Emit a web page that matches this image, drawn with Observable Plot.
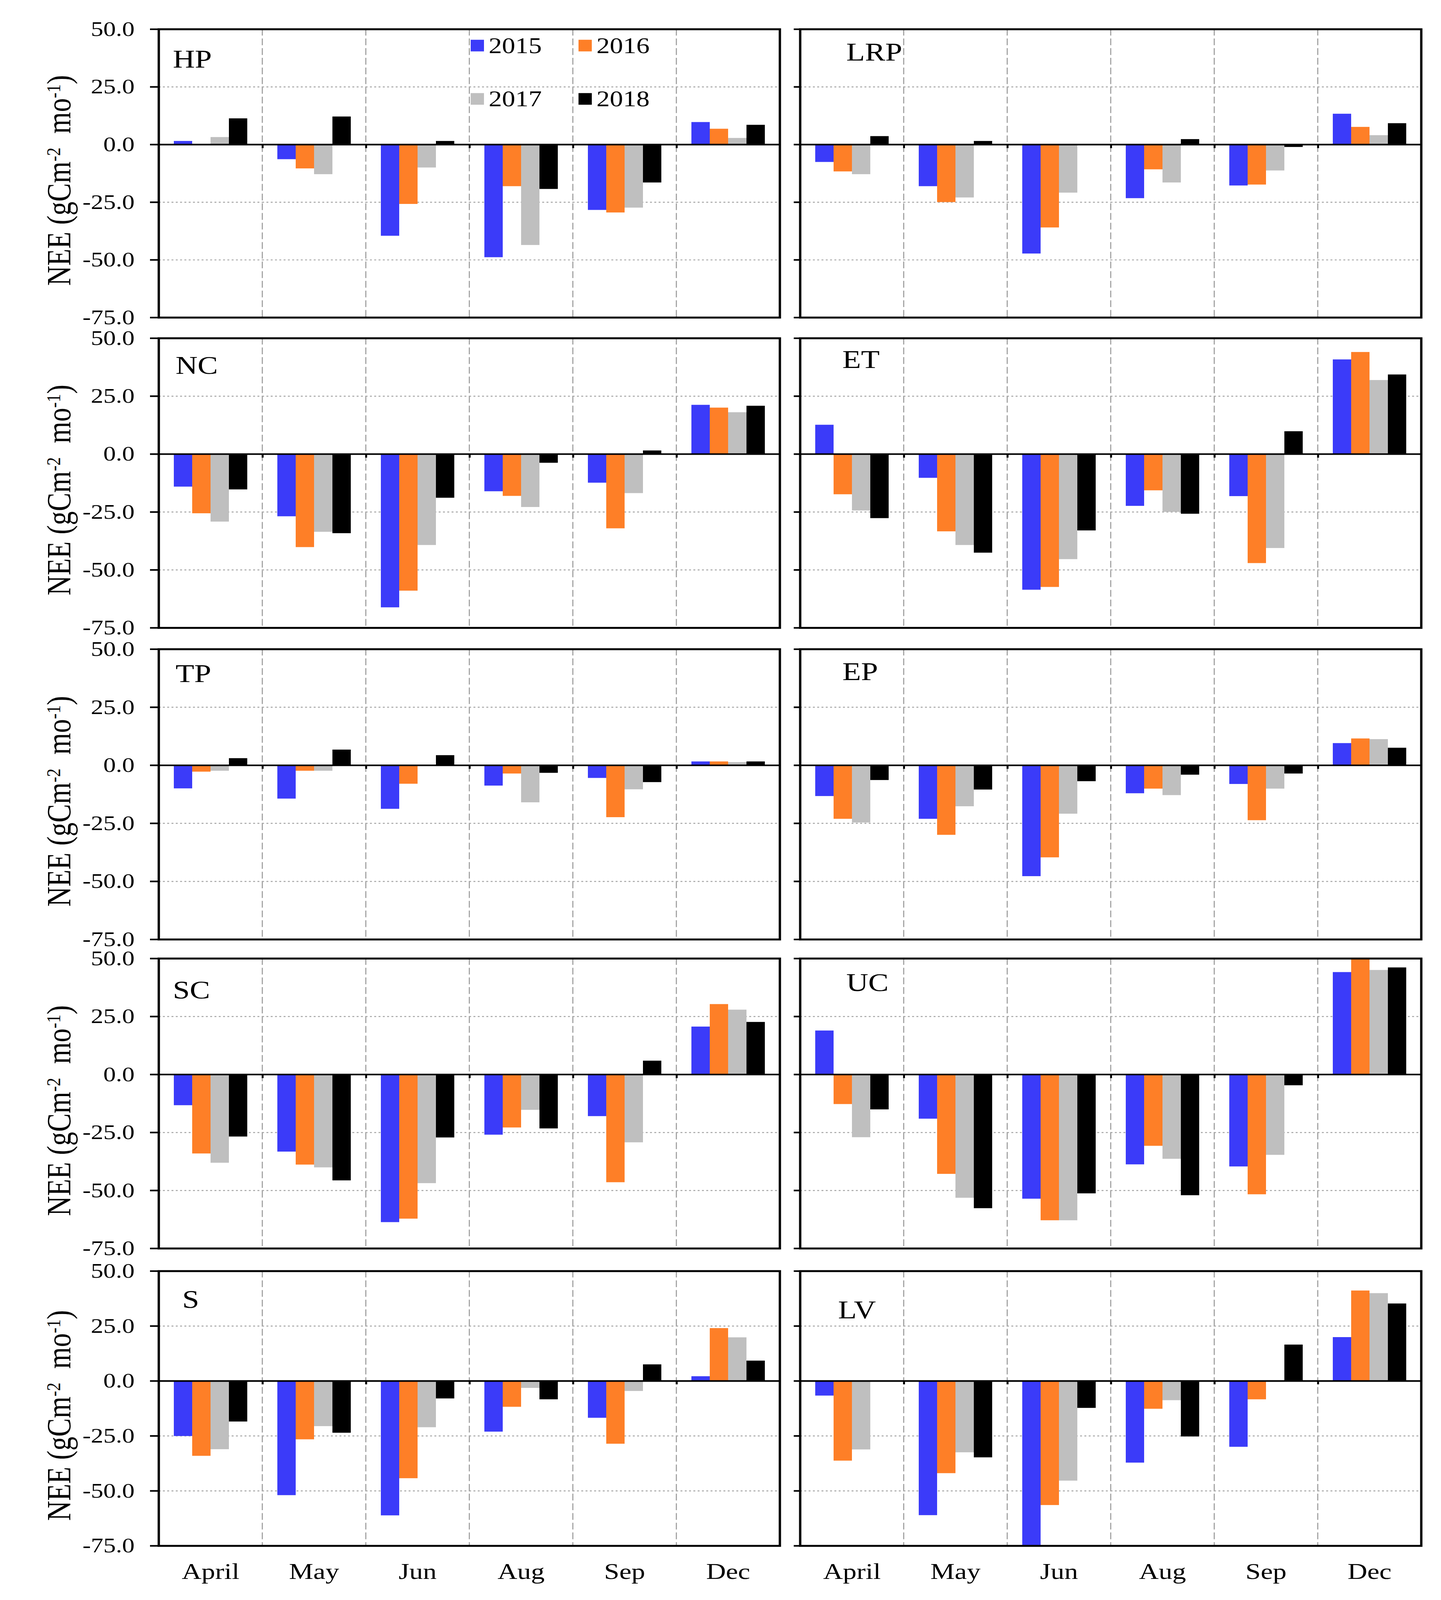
<!DOCTYPE html>
<html>
<head>
<meta charset="utf-8">
<script src="https://cdn.jsdelivr.net/npm/d3@7"></script>
<script src="https://cdn.jsdelivr.net/npm/@observablehq/plot@0.6"></script>
<style>
  html, body { margin: 0; padding: 0; background: #fff; overflow: hidden; }
  #page { position: relative; width: 3689px; height: 4950px; background: #fff; font-family: "Liberation Serif", "DejaVu Serif", serif; transform-origin: 0 0; overflow: hidden; }
  .ytitle { position: absolute; white-space: nowrap; line-height: 1; font-size: 86px; transform: translate(-50%, -50%) rotate(-90deg); color: #000; }
  .ytitle sup { font-size: 0.6em; vertical-align: 0.5em; line-height: 0; }
  .sw { position: absolute; width: 34px; height: 36px; }
  .lt { position: absolute; font-size: 68px; line-height: 1; transform: translateY(-50%); }
</style>
</head>
<body>
<div id="page"></div>
<script>
// ---------- data ----------
const months = ["April", "May", "Jun", "Aug", "Sep", "Dec"];
const years = ["2015", "2016", "2017", "2018"];
const yTicks = [50, 25, 0, -25, -50, -75];
const sites = ["HP", "LRP", "NC", "ET", "TP", "EP", "SC", "UC", "S", "LV"];

// each site: rows = years (2015..2018), columns = months (April..Dec)
const HP = [
  [1.5, -6.4, -39.6, -48.9, -28.4, 9.7],
  [0, -10.4, -25.8, -18.1, -29.5, 6.8],
  [3.2, -12.9, -10.0, -43.6, -27.4, 2.8],
  [11.3, 12.1, 1.5, -19.3, -16.5, 8.5]
];
const LRP = [
  [-7.6, -18.1, -47.3, -23.3, -17.8, 13.3],
  [-11.7, -25.0, -36.0, -10.8, -17.4, 7.6],
  [-12.9, -23.0, -20.9, -16.5, -11.3, 4.0],
  [3.6, 1.5, 0, 2.3, -1.1, 9.2]
];
const NC = [
  [-14.1, -26.9, -66.2, -16.1, -12.4, 21.2],
  [-25.6, -40.2, -59.0, -18.1, -32.1, 20.0],
  [-29.2, -33.6, -39.3, -22.9, -16.9, 18.0],
  [-15.3, -34.2, -18.9, -3.8, 1.5, 20.8]
];
const ET = [
  [12.6, -10.3, -58.6, -22.4, -18.2, 40.8],
  [-17.4, -33.4, -57.4, -15.7, -47.1, 44.0],
  [-24.4, -39.3, -45.4, -25.0, -40.6, 31.9],
  [-27.7, -42.6, -33.0, -25.8, 9.8, 34.3]
];
const TP = [
  [-10.0, -14.4, -18.8, -8.8, -5.5, 1.6],
  [-2.8, -2.4, -8.0, -3.6, -22.4, 1.6],
  [-2.4, -2.4, 0, -16.0, -10.4, 1.3],
  [3.0, 6.7, 4.3, -3.3, -7.3, 1.6]
];
const EP = [
  [-13.3, -23.1, -47.8, -12.1, -8.1, 9.5],
  [-23.1, -30.0, -39.7, -10.1, -23.7, 11.5],
  [-24.7, -17.7, -20.9, -12.9, -10.1, 11.2],
  [-6.4, -10.5, -6.9, -4.1, -3.6, 7.5]
];
const SC = [
  [-13.3, -33.3, -63.7, -26.0, -18.0, 20.6],
  [-34.1, -38.9, -62.2, -22.9, -46.5, 30.3],
  [-38.1, -40.1, -46.9, -15.3, -29.3, 27.9],
  [-26.8, -45.7, -27.2, -23.3, 5.9, 22.6]
];
const UC = [
  [18.9, -19.1, -53.6, -38.8, -39.7, 44.1],
  [-12.8, -42.9, -62.9, -30.8, -51.7, 50.5],
  [-27.1, -53.2, -62.9, -36.4, -34.7, 45.0],
  [-15.1, -57.7, -51.3, -52.1, -4.7, 46.1]
];
const S = [
  [-25.1, -52.0, -61.2, -23.1, -16.8, 2.1],
  [-34.1, -26.6, -44.3, -11.8, -28.6, 24.0],
  [-31.1, -20.6, -21.1, -3.2, -4.6, 19.8],
  [-18.5, -23.6, -8.0, -8.4, 7.5, 9.2]
];
const LV = [
  [-6.7, -61.1, -76.0, -37.2, -30.0, 19.9],
  [-36.3, -42.0, -56.5, -12.7, -8.4, 41.1],
  [-31.2, -32.5, -45.4, -8.8, 0, 39.9],
  [0, -34.8, -12.3, -25.3, 16.5, 35.2]
];
const siteData = [HP, LRP, NC, ET, TP, EP, SC, UC, S, LV];

// ---------- styles / layout ----------
const colors = ["#3b3bf9", "#fe7f27", "#bfbfbf", "#000000"];
const rowTops = [90, 1046, 2008, 2965, 3932];
const rowHeights = [892, 896, 898, 897, 850];
const colLefts = [404, 2046];
const panelWidth = 1594;
// label offsets [dx, dy] from panel top-left
const labelOffsets = [[36, 93], [118, 72], [43, 85], [108, 67], [43, 77], [108, 70], [36, 99], [118, 76], [60, 88], [97, 121]];

const page = document.getElementById("page");
// fill the viewport the browser really has with the 3689x4950 page
const sx = window.innerWidth / 3689, sy = window.innerHeight / 4950;
if (isFinite(sx) && isFinite(sy) && sx > 0 && sy > 0) page.style.transform = `scale(${sx}, ${sy})`;

const FONT = "Liberation Serif";

function makePanel(idx) {
  const site = sites[idx];
  const data = siteData[idx];
  const col = idx % 2, row = Math.floor(idx / 2);
  const isBottom = row === 4;
  const ML = 220, MR = 20, MT = 20, MB = isBottom ? 160 : 30;
  const W = panelWidth, H = rowHeights[row];
  const step = (W / months.length) / (years.length + 1.6);
  const records = years.flatMap((yr, i) => months.map((m, j) => ({month: m, year: yr, value: data[i][j]})));
  const bounds = months.slice(1).map(m => ({month: m, year: years[0]}));

  const marks = [
    Plot.gridY({ticks: [25, -25, -50], stroke: "#a6a6a6", strokeOpacity: 1, strokeWidth: 3, strokeDasharray: "5,6"}),
    Plot.frame({anchor: "left", stroke: "#a6a6a6", strokeOpacity: 1, strokeWidth: 3, strokeDasharray: "18,12"}),
    Plot.barY(records, {fx: "month", x: "year", y: "value", fill: "year", clip: true}),
    Plot.ruleY([0], {stroke: "black", strokeWidth: 5}),
    Plot.ruleX(bounds, {fx: "month", x: "year", y1: 0, y2: -1.6, dx: -1.3 * step, stroke: "black", strokeWidth: 5}),
    Plot.axisY({
      ticks: yTicks,
      tickSize: col === 0 ? 22 : 16,
      tickPadding: 40,
      tickFormat: col === 0 ? (d => d.toFixed(1)) : (() => ""),
      fontSize: 64,
      fontFamily: FONT,
      strokeWidth: 5,
      label: null
    }),
    Plot.frame({facet: "super", stroke: "black", strokeWidth: 6}),
    Plot.text([site], {
      facet: "super",
      frameAnchor: "top-left",
      dx: labelOffsets[idx][0],
      dy: labelOffsets[idx][1],
      textAnchor: "start",
      lineAnchor: "middle",
      fontSize: 78,
      fontFamily: FONT,
      fill: "black"
    })
  ];
  if (isBottom) {
    marks.push(Plot.axisFx({anchor: "bottom", tickSize: 0, tickPadding: 52, fontSize: 70, fontFamily: FONT, label: null}));
  }

  const svg = Plot.plot({
    width: W + ML + MR,
    height: H + MT + MB,
    marginLeft: ML, marginRight: MR, marginTop: MT, marginBottom: MB,
    style: "background: transparent; overflow: visible; max-width: none; font-family: 'Liberation Serif';",
    fx: {domain: months, padding: 0, axis: null},
    x: {domain: years, paddingInner: 0, paddingOuter: 0.8, axis: null},
    y: {domain: [-75, 50], axis: null},
    color: {domain: years, range: colors},
    marks
  });
  svg.style.position = "absolute";
  svg.style.left = (colLefts[col] - ML) + "px";
  svg.style.top = (rowTops[row] - MT) + "px";
  page.appendChild(svg);
}

for (let i = 0; i < sites.length; i++) makePanel(i);

// y-axis titles, one per row
rowTops.forEach((top, r) => {
  const d = document.createElement("div");
  d.className = "ytitle";
  d.innerHTML = "NEE (gCm<sup>-2</sup>&nbsp; mo<sup>-1</sup>)";
  d.style.left = "151px";
  d.style.top = (top + rowHeights[r] / 2 + 22) + "px";
  page.appendChild(d);
});

// legend inside HP panel
const legendPos = [[1205, 141], [1481, 141], [1205, 306], [1481, 306]];
years.forEach((yr, i) => {
  const [x, y] = legendPos[i];
  const sw = document.createElement("div");
  sw.className = "sw";
  sw.style.left = x + "px";
  sw.style.top = (y - 18) + "px";
  sw.style.background = colors[i];
  page.appendChild(sw);
  const t = document.createElement("div");
  t.className = "lt";
  t.textContent = yr;
  t.style.left = (x + 46) + "px";
  t.style.top = y + "px";
  page.appendChild(t);
});
</script>
</body>
</html>
